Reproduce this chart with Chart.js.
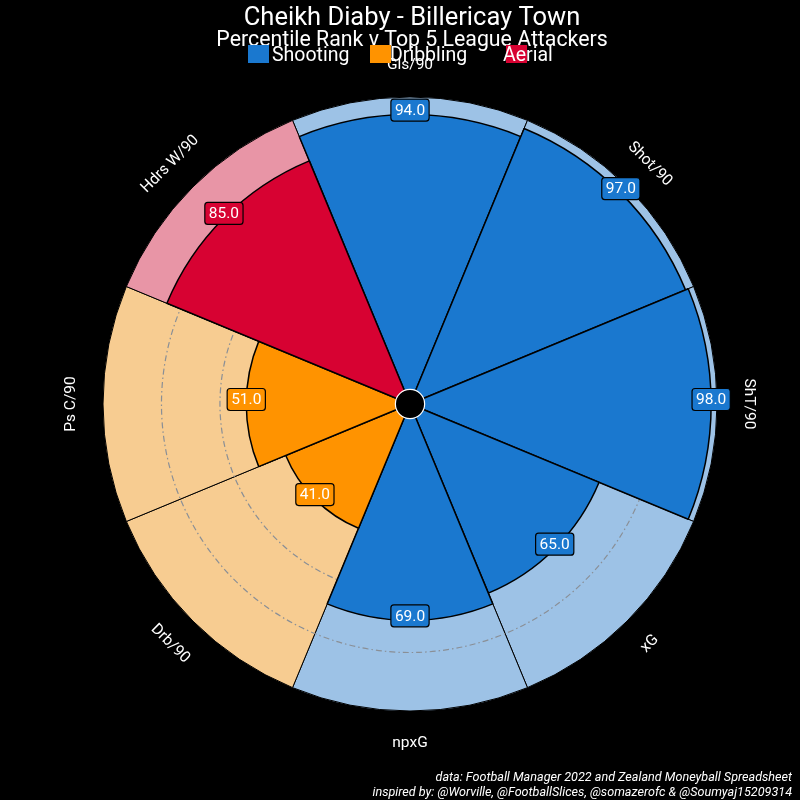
<!DOCTYPE html>
<html>
<head>
<meta charset="utf-8">
<script src="https://cdn.jsdelivr.net/npm/chart.js@4.4.0/dist/chart.umd.min.js"></script>
<style>
  html, body { margin: 0; padding: 0; background: #000; }
  #wrap { width: 800px; height: 800px; }
</style>
</head>
<body>
<div id="wrap"><canvas id="pizza" width="800" height="800"></canvas></div>
<script>
// Pizza chart — percentile ranks
const params = ['Gls/90', 'Shot/90', 'ShT/90', 'xG', 'npxG', 'Drb/90', 'Ps C/90', 'Hdrs W/90'];
const values = [94, 97, 98, 65, 69, 41, 51, 85];
const bgValues = [100, 100, 100, 100, 100, 100, 100, 100];
const groups = ['Shooting', 'Shooting', 'Shooting', 'Shooting', 'Shooting', 'Dribbling', 'Dribbling', 'Aerial'];
const groupNames = ['Shooting', 'Dribbling', 'Aerial'];
const gridValues = [60, 80];

const title = 'Cheikh Diaby - Billericay Town';
const subtitle = 'Percentile Rank v Top 5 League Attackers';
const credits = [
  'data: Football Manager 2022 and Zealand Moneyball Spreadsheet',
  'inspired by: @Worville, @FootballSlices, @somazerofc & @Soumyaj15209314'
];

const darkColor = { Shooting: '#1a78cf', Dribbling: '#ff9300', Aerial: '#d70232' };
const lightColor = { Shooting: '#9dc2e6', Dribbling: '#f7cc91', Aerial: '#e895a6' };

const FONT = 'Roboto, "Noto Sans", sans-serif';

const pizzaPlugin = {
  id: 'pizza',
  // dash-dot reference circles sit above the background slices, below the values
  beforeDatasetDraw(chart, args) {
    if (args.index !== 0) return;
    const r = chart.scales.r;
    const ctx = chart.ctx;
    ctx.save();
    ctx.strokeStyle = '#8a8f96';
    ctx.lineWidth = 1.2;
    ctx.setLineDash([6, 3, 1.5, 3]);
    gridValues.forEach(v => {
      ctx.beginPath();
      ctx.arc(r.xCenter, r.yCenter, r.getDistanceFromCenterForValue(v), 0, Math.PI * 2);
      ctx.stroke();
    });
    ctx.restore();
  },
  afterDatasetsDraw(chart) {
    const r = chart.scales.r;
    const ctx = chart.ctx;
    const meta = chart.getDatasetMeta(0);

    // centre hole
    ctx.save();
    ctx.beginPath();
    ctx.arc(r.xCenter, r.yCenter, r.getDistanceFromCenterForValue(0), 0, Math.PI * 2);
    ctx.fillStyle = '#000';
    ctx.fill();
    ctx.strokeStyle = '#ffffff';
    ctx.lineWidth = 1.2;
    ctx.stroke();
    ctx.restore();

    meta.data.forEach((arc, i) => {
      const mid = (arc.startAngle + arc.endAngle) / 2;

      // parameter label, rotated along the ring
      const lr = r.getDistanceFromCenterForValue(111);
      let deg = Math.round((mid * 180 / Math.PI + 90) * 100) / 100;
      deg = ((deg % 360) + 360) % 360;
      let rot = deg <= 90 ? deg : (deg < 270 ? deg - 180 : deg - 360);
      ctx.save();
      ctx.translate(arc.x + Math.cos(mid) * lr, arc.y + Math.sin(mid) * lr);
      ctx.rotate(rot * Math.PI / 180);
      ctx.font = '15.5px ' + FONT;
      ctx.fillStyle = '#ffffff';
      ctx.textAlign = 'center';
      ctx.textBaseline = 'middle';
      ctx.fillText(params[i], 0, 0);
      ctx.restore();

      // value box
      const vx = arc.x + Math.cos(mid) * arc.outerRadius;
      const vy = arc.y + Math.sin(mid) * arc.outerRadius - 4.5;
      const txt = values[i].toFixed(1);
      ctx.save();
      ctx.font = '15.5px ' + FONT;
      const w = ctx.measureText(txt).width + 8;
      const h = 22;
      ctx.beginPath();
      ctx.roundRect(vx - w / 2, vy - h / 2, w, h, 3);
      ctx.fillStyle = darkColor[groups[i]];
      ctx.fill();
      ctx.strokeStyle = '#000';
      ctx.lineWidth = 1.2;
      ctx.stroke();
      ctx.fillStyle = '#ffffff';
      ctx.textAlign = 'center';
      ctx.textBaseline = 'middle';
      ctx.fillText(txt, vx, vy + 1);
      ctx.restore();
    });
  },
  afterDraw(chart) {
    const ctx = chart.ctx;
    ctx.save();
    ctx.fillStyle = '#ffffff';
    ctx.textAlign = 'center';
    ctx.textBaseline = 'alphabetic';
    ctx.font = '25.5px ' + FONT;
    ctx.fillText(title, 412, 25);
    ctx.font = '21.3px ' + FONT;
    ctx.fillText(subtitle, 412, 46);

    // legend
    const boxX = [248, 370, 506];
    const textX = [272, 390, 503];
    ctx.textAlign = 'left';
    ctx.font = '19.5px ' + FONT;
    groupNames.forEach((g, i) => {
      ctx.fillStyle = darkColor[g];
      ctx.fillRect(boxX[i], 45, 21, 18);
    });
    groupNames.forEach((g, i) => {
      ctx.fillStyle = '#ffffff';
      ctx.fillText(g, textX[i], 61);
    });

    // credits
    ctx.textAlign = 'right';
    ctx.font = 'italic 12.6px ' + FONT;
    ctx.fillText(credits[0], 792, 781);
    ctx.fillText(credits[1], 792, 796);
    ctx.restore();
  }
};

const ctx = document.getElementById('pizza').getContext('2d');
const chart = new Chart(ctx, {
  type: 'polarArea',
  data: {
    labels: params,
    datasets: [
      {
        label: 'Percentile',
        data: values,
        backgroundColor: groups.map(g => darkColor[g]),
        borderColor: '#000000',
        borderWidth: 1.5
      },
      {
        label: 'Max',
        data: bgValues,
        backgroundColor: groups.map(g => lightColor[g]),
        borderColor: '#000000',
        borderWidth: 1
      }
    ]
  },
  options: {
    responsive: false,
    animation: false,
    startAngle: -22.5,
    layout: { padding: { left: 103, right: 83, top: 97, bottom: 89 } },
    plugins: {
      legend: { display: false },
      title: { display: false },
      tooltip: { enabled: false }
    },
    scales: {
      r: {
        min: -5,
        max: 100,
        startAngle: -22.5,
        ticks: { display: false },
        grid: { display: false },
        angleLines: { display: false },
        pointLabels: { display: false }
      }
    }
  },
  plugins: [pizzaPlugin]
});
</script>
</body>
</html>
